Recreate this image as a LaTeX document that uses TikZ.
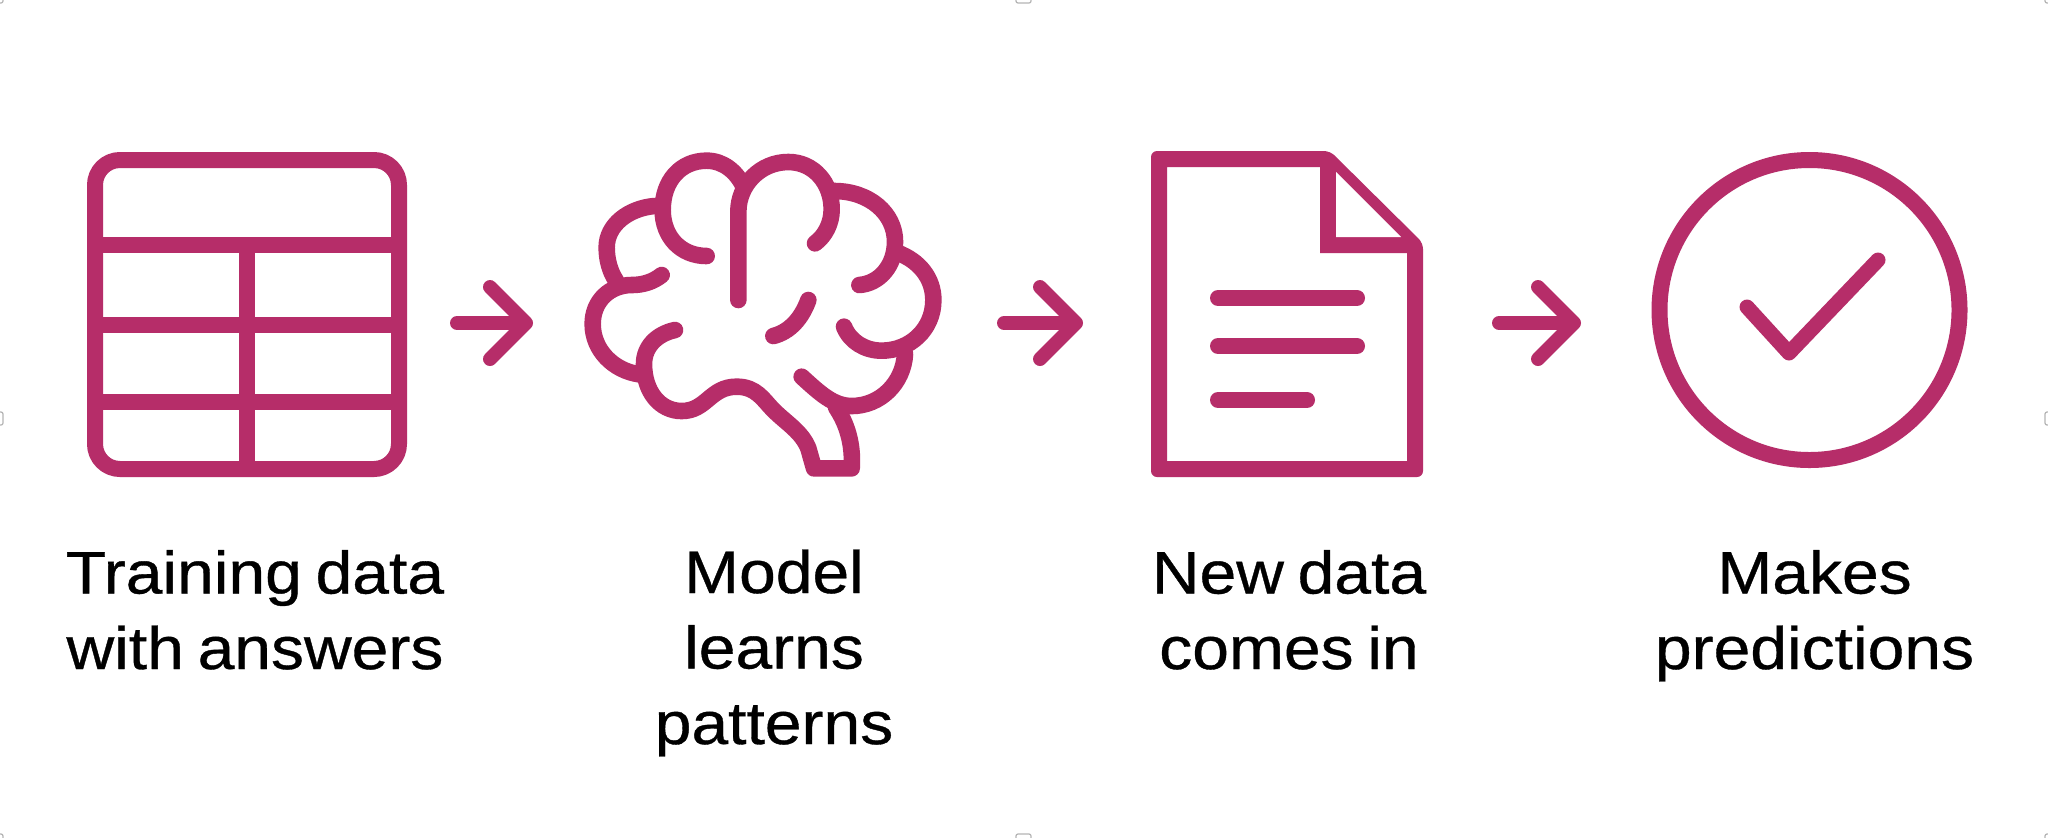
\documentclass[tikz,border=0pt]{standalone}
\usepackage{fontspec}
\usetikzlibrary{arrows.meta}
\setmainfont[FakeStretch=1.1,FakeBold=0.6,WordSpace=0.75]{Liberation Sans}
\definecolor{iconpink}{HTML}{B62D69}
\definecolor{handlegrey}{HTML}{B4B4B4}
\tikzset{
  px/.style={x=0.5pt,y=-0.5pt},
  icon/.style={draw=iconpink,line width=8pt,line join=round,line cap=round},
  brainline/.style={icon,line width=8.3pt},
  iconthin/.style={icon,line width=7.5pt},
  flow/.style={draw=iconpink,line width=7pt,line cap=round,line join=round,
    -{Straight Barb[length=18pt,width=36pt,line width=7pt,round]}},
  caption/.style={align=center,inner sep=0pt,anchor=base,text=black,
    font=\fontsize{30}{37.75}\selectfont},
  handle/.style={draw=handlegrey,line width=0.6pt,rounded corners=1pt},
}
\begin{document}
\begin{tikzpicture}[px]
\useasboundingbox (0,0) rectangle (2048,837);
\fill[white] (0,0) rectangle (2048,837);
% Table
\node (tableicon) [minimum width=160pt,minimum height=162.5pt,inner sep=0pt] at (247,314.5) {};
\draw[icon,rounded corners=12.5pt] (95,160) rectangle (399,469);
\draw[icon,line cap=butt] (95,245) -- (399,245);
\draw[icon,line cap=butt] (95,325) -- (399,325);
\draw[icon,line cap=butt] (95,402) -- (399,402);
\draw[icon,line cap=butt] (247,245) -- (247,469);
% Brain
\node (brainicon) [minimum width=180pt,minimum height=165pt,inner sep=0pt] at (775,315) {};
\begin{scope}[shift={(560,130)},x=0.16667pt,y=-0.16667pt]
\draw[brainline] (440,378) .. controls (362,378) and (308,320) .. (308,240) .. controls (308,152) and (362,92) .. (440,92) .. controls (490,92) and (530,125) .. (552,172);
\draw[brainline] (535,510) -- (535,245) .. controls (535,165) and (600,96) .. (685,96) .. controls (762,96) and (815,160) .. (815,238) .. controls (815,280) and (795,318) .. (765,340);
\draw[brainline] (822,183) .. controls (928,183) and (1005,250) .. (1005,335) .. controls (1005,405) and (960,460) .. (898,465);
\draw[brainline] (1012,368) .. controls (1078,392) and (1120,445) .. (1120,510) .. controls (1120,598) and (1050,662) .. (965,662) .. controls (915,662) and (870,635) .. (852,590);
\draw[brainline] (1035,672) .. controls (1030,760) and (960,828) .. (875,828) .. controls (820,828) and (780,790) .. (725,740);
\draw[brainline] (345,600) .. controls (290,612) and (252,650) .. (252,702) .. controls (252,785) and (300,843) .. (365,843) .. controls (440,843) and (450,770) .. (530,770) .. controls (590,770) and (610,810) .. (640,840) .. controls (680,880) and (725,905) .. (745,955) -- (762,1015) -- (875,1015) .. controls (880,940) and (860,880) .. (828,832);
\draw[brainline] (238,733) .. controls (160,722) and (98,660) .. (98,582) .. controls (98,512) and (150,465) .. (215,465) .. controls (250,465) and (280,455) .. (305,435);
\draw[brainline] (283,228) .. controls (205,235) and (140,285) .. (140,352) .. controls (140,390) and (150,425) .. (168,452);
\draw[brainline] (640,618) .. controls (690,605) and (725,565) .. (745,510);
\end{scope}
% Document
\node (docicon) [minimum width=136pt,minimum height=163pt,inner sep=0pt] at (1287,314) {};
\fill[iconpink,even odd rule,rounded corners=3pt]
  (1151,151) -- (1330,151) -- (1423,243) -- (1423,477) -- (1151,477) -- cycle
  [sharp corners] (1167,167) -- (1320,167) -- (1320,253) -- (1407,253) -- (1407,461) -- (1167,461) -- cycle;
\fill[white] (1336,172) -- (1336,237) -- (1401,237) -- cycle;
\draw[icon] (1218,298) -- (1357,298);
\draw[icon] (1218,346) -- (1357,346);
\draw[icon] (1218,400) -- (1307,400);
% Check circle
\node (checkicon) [circle,draw=iconpink,line width=8pt,minimum size=150pt,inner sep=0pt] at (1809.5,310) {};
\draw[iconthin] (1747,307) -- (1789,353) -- (1878,260);
% Arrows
\coordinate (s1) at (457,323); \coordinate (e1) at (533,323);
\coordinate (s2) at (1004,323); \coordinate (e2) at (1083,323);
\coordinate (s3) at (1499,323); \coordinate (e3) at (1581,323);
\draw[flow] (s1) -- (e1);
\draw[flow] (s2) -- (e2);
\draw[flow] (s3) -- (e3);
% Captions
\node (cap1) [caption] at (255,669) {Training data\\with answers};
\node (cap2) [caption] at (774,744) {Model\\learns\\patterns};
\node (cap3) [caption] at (1289,669) {New data\\comes in};
\node (cap4) [caption] at (1814.5,669) {Makes\\predictions};
% Selection handles
\draw[handle] (1016,-3) rectangle (1031,3);
\draw[handle] (1016,840) rectangle (1031,834);
\draw[handle] (-3,412) rectangle (3,425);
\draw[handle] (2051,412) rectangle (2045,425);
\draw[handle] (-3,-3) rectangle (3,3);
\draw[handle] (2051,-3) rectangle (2045,3);
\draw[handle] (-3,840) rectangle (3,834);
\draw[handle] (2051,840) rectangle (2045,834);
\end{tikzpicture}
\end{document}
